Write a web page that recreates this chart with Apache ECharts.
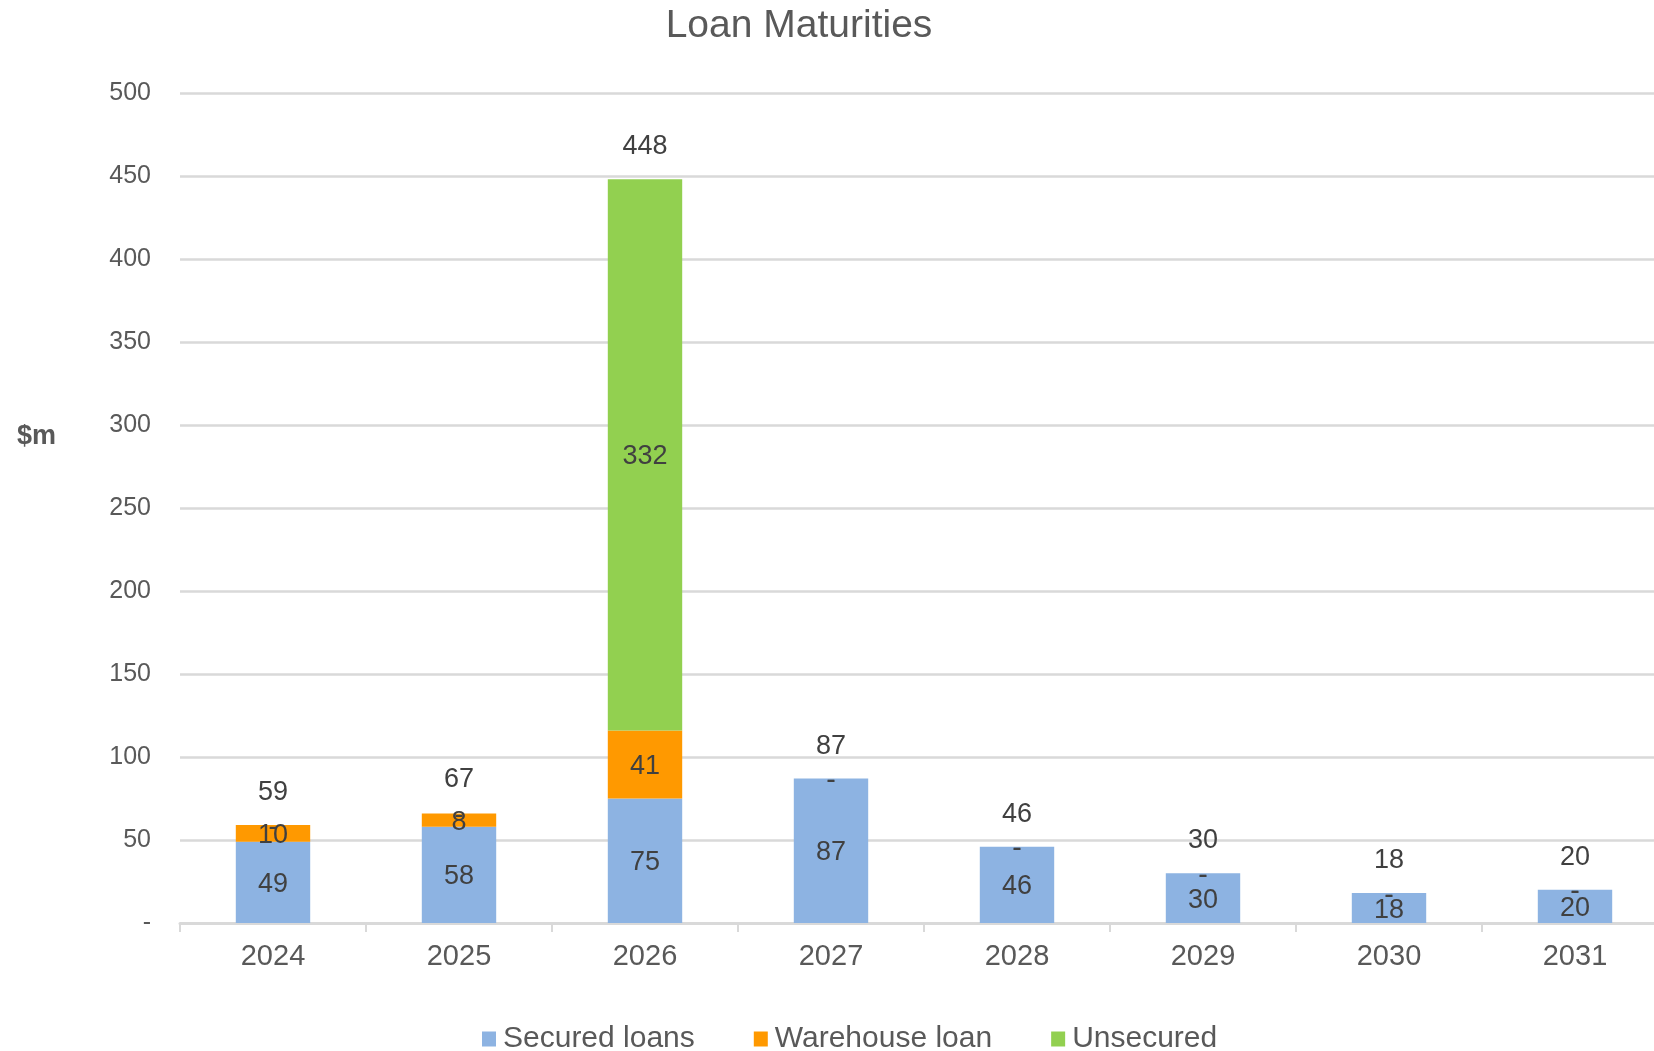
<!DOCTYPE html>
<html>
<head>
<meta charset="utf-8">
<title>Loan Maturities</title>
<script src="https://cdn.jsdelivr.net/npm/echarts@6/dist/echarts.min.js"></script>
<style>
  html, body { margin: 0; padding: 0; background: #ffffff; overflow: hidden; }
  /* the plot runs slightly past the right edge of the page, so the canvas is a bit wider than the view */
  #chart { width: 1668px; height: 1051px; }
</style>
</head>
<body>
<div id="chart"></div>
<script>
// Maturity years on the category axis
const years = ['2024', '2025', '2026', '2027', '2028', '2029', '2030', '2031'];

// Amounts maturing per year, $m
const securedLoans   = [49, 58, 75, 87, 46, 30, 18, 20];
const warehouseLoan  = [10, 8, 41, 0, 0, 0, 0, 0];
const unsecured      = [0, 0, 332, 0, 0, 0, 0, 0];

// Year totals printed above each column
const totals = [59, 67, 448, 87, 46, 30, 18, 20];

// Value axis range and step
const yMin = 0;
const yMax = 500;
const yStep = 50;

const FONT = '"Liberation Sans", Arial, "Helvetica Neue", sans-serif';
const TEXT_GREY = '#595959';
const LABEL_DARK = '#404040';
const LINE_GREY = '#d9d9d9';

// Zero amounts are shown as a dash, accounting style
const dashZero = (v) => (v === 0 ? '-' : String(v));

const segmentLabel = {
  show: true,
  position: 'inside',
  offset: [0, 2],
  color: LABEL_DARK,
  fontFamily: FONT,
  fontSize: 27,
  formatter: (p) => dashZero(p.value)
};

const chart = echarts.init(document.getElementById('chart'), null, { renderer: 'canvas' });

chart.setOption({
  backgroundColor: '#ffffff',
  animation: false,
  title: [
    {
      text: 'Loan Maturities',
      left: 794,
      top: 2,
      textAlign: 'center',
      textStyle: { fontFamily: FONT, fontSize: 39, fontWeight: 'normal', color: TEXT_GREY }
    },
    {
      text: '$m',
      left: 12,
      top: 418,
      textStyle: { fontFamily: FONT, fontSize: 27, fontWeight: 'bold', color: TEXT_GREY }
    }
  ],
  legend: {
    data: ['Secured loans', 'Warehouse loan', 'Unsecured'],
    left: 477,
    top: 1019,
    icon: 'rect',
    itemWidth: 14,
    itemHeight: 15,
    itemGap: 59,
    textStyle: { fontFamily: FONT, fontSize: 30, color: TEXT_GREY, lineHeight: 30, padding: [0, 0, 0, 2] }
  },
  grid: {
    left: 180,
    right: 0,
    top: 93,
    bottom: 128,
    containLabel: false
  },
  xAxis: {
    type: 'category',
    data: years,
    boundaryGap: true,
    axisLine: { show: true, lineStyle: { color: LINE_GREY, width: 3 } },
    axisTick: { show: true, length: 9, lineStyle: { color: LINE_GREY, width: 2 } },
    axisLabel: { fontFamily: FONT, fontSize: 29, color: TEXT_GREY, margin: 19 },
    splitLine: { show: false }
  },
  yAxis: {
    type: 'value',
    min: yMin,
    max: yMax,
    interval: yStep,
    axisLine: { show: false },
    axisTick: { show: false },
    axisLabel: {
      fontFamily: FONT,
      fontSize: 25,
      color: TEXT_GREY,
      margin: 29,
      formatter: (v) => dashZero(v)
    },
    splitLine: { show: true, lineStyle: { color: LINE_GREY, width: 2.5 } }
  },
  series: [
    {
      name: 'Secured loans',
      type: 'bar',
      stack: 'maturities',
      barWidth: '40%',
      data: securedLoans,
      itemStyle: { color: '#8db3e2' },
      label: segmentLabel
    },
    {
      name: 'Warehouse loan',
      type: 'bar',
      stack: 'maturities',
      barWidth: '40%',
      data: warehouseLoan,
      itemStyle: { color: '#ff9900' },
      label: segmentLabel
    },
    {
      name: 'Unsecured',
      type: 'bar',
      stack: 'maturities',
      barWidth: '40%',
      data: unsecured,
      itemStyle: { color: '#92d050' },
      label: segmentLabel
    },
    {
      // Year totals sitting above each column
      name: 'Total',
      type: 'scatter',
      data: totals,
      symbolSize: 0,
      itemStyle: { color: LABEL_DARK, opacity: 1 },
      silent: true,
      z: 5,
      label: {
        show: true,
        position: 'top',
        distance: 19,
        color: LABEL_DARK,
        fontFamily: FONT,
        fontSize: 27
      }
    }
  ]
});
</script>
</body>
</html>
